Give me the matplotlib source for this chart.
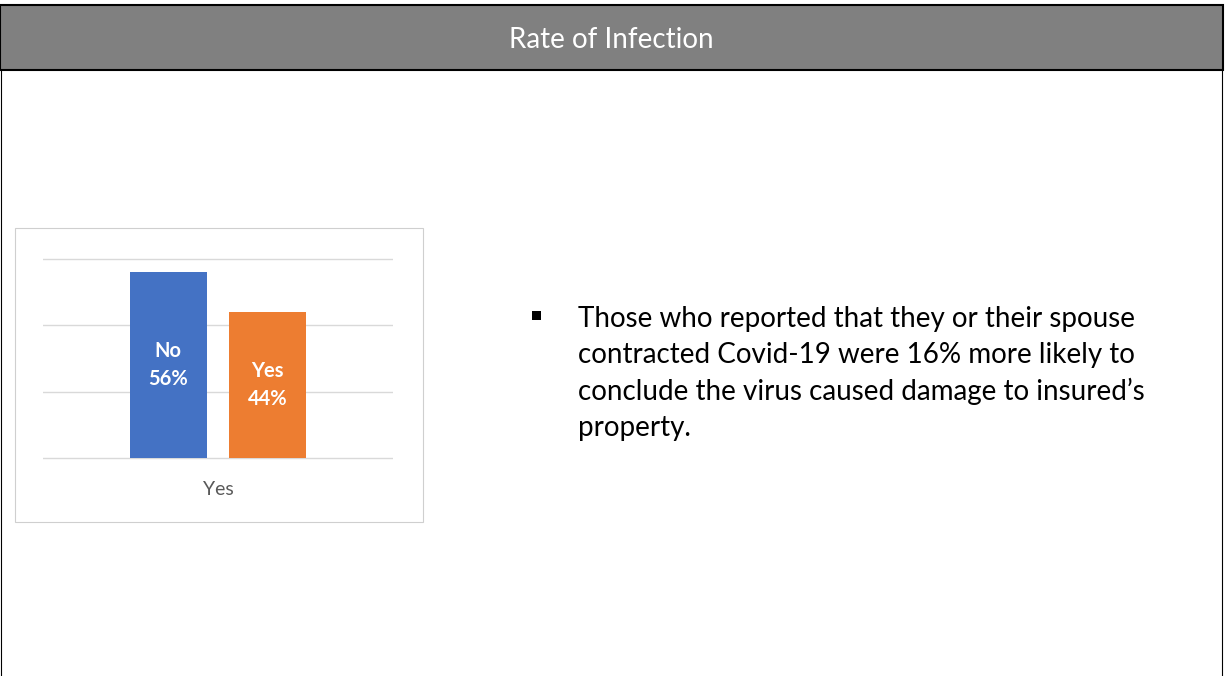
import matplotlib
matplotlib.use("Agg")
import matplotlib.pyplot as plt
from matplotlib.patches import Rectangle

W, H, DPI = 1226, 676, 100

title = "Rate of Infection"
category = "Yes"
responses = ["No", "Yes"]
shares = [56, 44]
bar_colors = ["#4472C4", "#ED7D31"]
y_ticks = [0, 20, 40, 60]
bullet_lines = [
    "Those who reported that they or their spouse",
    "contracted Covid-19 were 16% more likely to",
    "conclude the virus caused damage to insured\u2019s",
    "property.",
]

fig = plt.figure(figsize=(W / DPI, H / DPI), dpi=DPI)
fig.patch.set_facecolor("white")
renderer = fig.canvas.get_renderer()

# Page layer in pixel coordinates (origin top-left)
bg = fig.add_axes([0, 0, 1, 1])
bg.set_xlim(0, W)
bg.set_ylim(H, 0)
bg.axis("off")


def fit_width(txt, target_px):
    w = txt.get_window_extent(renderer).width
    txt.set_fontsize(txt.get_fontsize() * target_px / w)


# Header band
bg.add_patch(Rectangle((0, 5), 1223, 65, facecolor="#808080",
                       edgecolor="black", lw=1.5, zorder=2))
t = bg.text(611, 48, title, ha="center", va="baseline", color="white",
            family="Lato", fontsize=20, zorder=3)
fit_width(t, 204)

# Body frame
bg.plot([0.5, 0.5], [70, H], color="black", lw=0.8, solid_capstyle="butt")
bg.plot([1221.5, 1221.5], [70, H], color="black", lw=0.8, solid_capstyle="butt")

# Chart card
bg.add_patch(Rectangle((14.5, 227.5), 408, 294, facecolor="white",
                       edgecolor="#CFCFCF", lw=0.8, zorder=1))

# Bullet text
bg.add_patch(Rectangle((532, 311), 9, 9, facecolor="black", edgecolor="none"))
first = bg.text(578, 327, bullet_lines[0], ha="left", va="baseline",
                family="Lato", fontsize=20, color="black")
fit_width(first, 557)
body_size = first.get_fontsize()
for i, line in enumerate(bullet_lines[1:], start=1):
    bg.text(578, 327 + 36.3 * i, line, ha="left", va="baseline",
            family="Lato", fontsize=body_size, color="black")

# Bar chart: gridline 0 at y=458 px, gridline 60 at y=259 px
y0_px, ytop_px = 458, 259
ppu = (y0_px - ytop_px) / (y_ticks[-1] - y_ticks[0])
lo, hi = -1.0, 61.0
ax_bottom = y0_px + (0 - lo) * ppu
ax_top = y0_px - (hi - 0) * ppu
x_left, x_right = 43, 393
ax = fig.add_axes([x_left / W, (H - ax_bottom) / H,
                   (x_right - x_left) / W, (ax_bottom - ax_top) / H])
ax.set_facecolor("none")
ax.set_xlim(-0.5, 0.5)
ax.set_ylim(lo, hi)

offsets = [-0.142, 0.142]
bar_w = 0.22
labels = []
for off, resp, val, col in zip(offsets, responses, shares, bar_colors):
    ax.bar(off, val, bar_w, color=col, zorder=2)
    labels.append(ax.text(off, val / 2, f"{resp}\n{val}%", ha="center",
                          va="center", color="white", fontweight="bold",
                          family="Lato", fontsize=14, linespacing=1.5,
                          zorder=3))
fit_width(labels[0], 40)
for lb in labels[1:]:
    lb.set_fontsize(labels[0].get_fontsize())

ax.set_yticks(y_ticks)
ax.yaxis.grid(True, color="#D9D9D9", lw=1.0)
ax.set_axisbelow(True)
ax.set_xticks([0])
ax.set_xticklabels([category], color="#595959", family="Lato", fontsize=14)
ax.tick_params(left=False, labelleft=False, bottom=False, pad=11)
for s in ax.spines.values():
    s.set_visible(False)

fig.savefig("out.png", dpi=DPI, facecolor="white")
